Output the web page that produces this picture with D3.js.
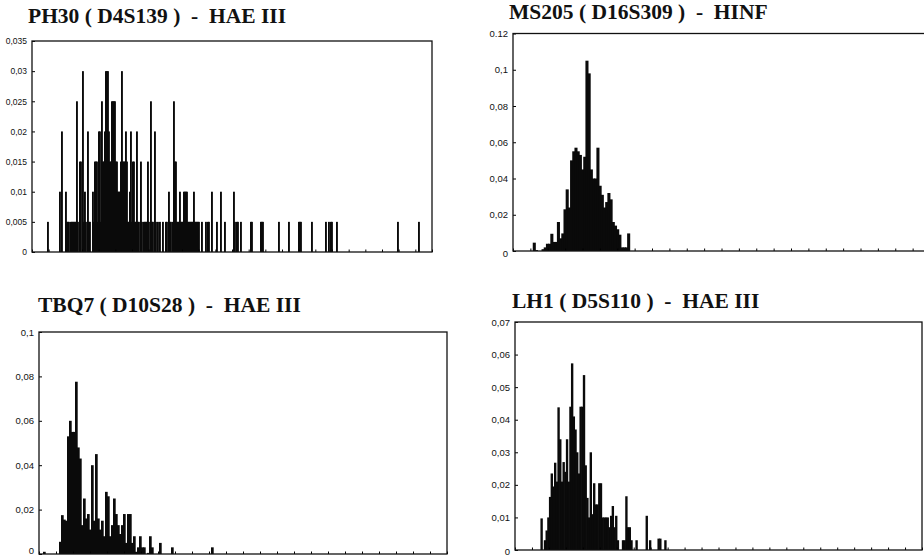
<!DOCTYPE html>
<html>
<head>
<meta charset="utf-8">
<script src="https://cdn.jsdelivr.net/npm/d3@7/dist/d3.min.js"></script>
<style>
    body { margin: 0; background: #fff; }
</style>
</head>
<body>
<script>

// PH30 : sparse bars, [bin, frequency]
const ph30Bars = [
    [15,.005],[27,.01],[29,.02],[33,.01],[34,.005],[35,.005],[36,.005],[38,.005],[39,.005],[40,.005],
    [41,.005],[42,.005],[43,.005],[44,.025],[45,.005],[47,.015],[48,.015],[50,.03],[51,.005],[52,.01],
    [53,.005],[55,.02],[56,.005],[57,.005],[60,.01],[61,.005],[62,.015],[63,.015],[64,.015],[65,.005],
    [66,.02],[67,.02],[68,.005],[69,.025],[70,.015],[71,.015],[72,.02],[73,.03],[74,.03],[75,.03],
    [76,.02],[77,.015],[78,.015],[79,.025],[80,.025],[81,.025],[82,.025],[83,.015],[84,.015],[85,.01],
    [86,.01],[87,.01],[88,.015],[89,.03],[90,.015],[91,.015],[92,.015],[93,.02],[94,.015],[95,.005],
    [96,.005],[97,.01],[98,.02],[99,.005],[100,.015],[101,.015],[102,.005],[103,.005],[104,.02],[105,.005],
    [106,.005],[108,.015],[109,.005],[111,.005],[112,.005],[113,.005],[114,.005],[115,.015],[116,.005],[118,.025],
    [119,.005],[120,.005],[122,.02],[123,.005],[125,.005],[127,.005],[130,.005],[133,.005],[134,.005],[136,.01],
    [137,.005],[138,.005],[140,.005],[141,.025],[142,.015],[143,.015],[144,.005],[145,.005],[146,.005],[147,.01],
    [148,.005],[149,.005],[150,.005],[151,.01],[152,.01],[153,.01],[154,.01],[155,.005],[156,.005],[157,.005],
    [158,.005],[159,.005],[160,.005],[161,.01],[162,.005],[163,.005],[164,.005],[165,.005],[166,.005],[169,.005],
    [173,.005],[175,.005],[176,.005],[179,.01],[184,.005],[188,.01],[192,.005],[201,.01],[202,.005],[204,.005],
    [205,.005],[208,.005],[218,.005],[219,.005],[228,.005],[229,.005],[230,.005],[246,.005],[256,.005],[266,.005],
    [267,.005],[268,.005],[279,.005],[293,.005],[296,.005],[298,.005],[299,.005],[304,.005],[365,.005],[386,.005]
]

// the other three : consecutive bins, starting at the given bin
const ms205Start = 9
const ms205Values = [
    0.0046, 0.0005, 0, 0, 0.001, 0.002, 0.004, 0.004, 0.0095, 0.005,
    0.005, 0.016, 0.007, 0.0097, 0.023, 0.034, 0.024, 0.05, 0.055, 0.057,
    0.055, 0.053, 0.045, 0.052, 0.105, 0.098, 0.045, 0.04, 0.04, 0.057,
    0.036, 0.031, 0.024, 0.027, 0.032, 0.0285, 0.016, 0.014, 0.012, 0.009,
    0.002, 0.002, 0.002, 0.0097
]

const tbq7Start = 2
const tbq7Values = [
    0.001, 0, 0, 0, 0, 0, 0, 0, 0.0055, 0.0175,
    0.0155, 0.015, 0.053, 0.06, 0.055, 0.055, 0.0776, 0.048, 0.043, 0.013,
    0.025, 0.016, 0.018, 0.011, 0.04, 0.015, 0.045, 0.016, 0.011, 0.015,
    0.008, 0.028, 0.026, 0.008, 0.013, 0.025, 0.018, 0.013, 0.009, 0.013,
    0.018, 0.005, 0.018, 0.018, 0.005, 0.008, 0.001, 0.003, 0.008, 0.003,
    0.003, 0, 0.0005, 0.008, 0.003, 0, 0, 0, 0.005, 0,
    0, 0, 0, 0, 0.003, 0, 0, 0, 0, 0,
    0, 0, 0, 0, 0, 0, 0, 0, 0, 0,
    0, 0, 0, 0, 0.003
]

const lh1Start = 15
const lh1Values = [
    0.0097, 0, 0.003, 0.006, 0.01, 0.0163, 0.0235, 0.0195, 0.0268, 0.021,
    0.0438, 0.034, 0.021, 0.027, 0.024, 0.034, 0.021, 0.044, 0.0573, 0.041,
    0.037, 0.03, 0.0235, 0.044, 0.044, 0.0537, 0.026, 0.016, 0.01, 0.03,
    0.011, 0.0205, 0.014, 0.014, 0.0205, 0.0205, 0.01, 0.01, 0.01, 0.01,
    0.007, 0.0105, 0.0135, 0.007, 0.0105, 0.003, 0, 0, 0.003, 0.003,
    0.0165, 0.007, 0.007, 0.003, 0, 0, 0.003, 0, 0, 0,
    0, 0, 0.0105, 0, 0.003, 0, 0, 0, 0, 0.0035,
    0.0035, 0, 0, 0.003
]

const titles = [
    "PH30 ( D4S139 )  -  HAE III",
    "MS205 ( D16S309 )  -  HINF",
    "TBQ7 ( D10S28 )  -  HAE III",
    "LH1 ( D5S110 )  -  HAE III"
]

const ph30Ticks = [0, 0.005, 0.01, 0.015, 0.02, 0.025, 0.03, 0.035]
const ph30TickLabels = ["0", "0,005", "0,01", "0,015", "0,02", "0,025", "0,03", "0,035"]
const ms205Ticks = [0, 0.02, 0.04, 0.06, 0.08, 0.1, 0.12]
const ms205TickLabels = ["0", "0,02", "0,04", "0,06", "0,08", "0,1", "0.12"]
const tbq7Ticks = [0, 0.02, 0.04, 0.06, 0.08, 0.1]
const tbq7TickLabels = ["0", "0,02", "0,04", "0,06", "0,08", "0,1"]
const lh1Ticks = [0, 0.01, 0.02, 0.03, 0.04, 0.05, 0.06, 0.07]
const lh1TickLabels = ["0", "0,01", "0,02", "0,03", "0,04", "0,05", "0,06", "0,07"]


window.onload = function (){

    const width = 924
    const height = 556

    const svg = d3.select('body')
        .append('svg')
        .attr('width', width)
        .attr('height', height)

    function toBars(start, values){
        return values.map((v, i) => [start + i, v])
    }

    const plainLabels = "Arial, 'Liberation Sans', sans-serif"

    const panels = [
        {title: titles[0], titleX: 28, titleY: 23, bars: ph30Bars, bins: 400, barWidth: 1.9,
         left: 32, right: 432, top: 41, bottom: 252, yMax: 0.035, zeroShift: 0,
         ticks: ph30Ticks, tickLabels: ph30TickLabels, labelFont: "'Liberation Sans Narrow', 'Liberation Sans', sans-serif", labelSize: 8.5},
        {title: titles[1], titleX: 509, titleY: 19, bars: toBars(ms205Start, ms205Values), bins: 190, barWidth: 1.4,
         left: 513, right: 930, top: 33.5, bottom: 251, yMax: 0.12, zeroShift: 2,
         ticks: ms205Ticks, tickLabels: ms205TickLabels, labelFont: plainLabels, labelSize: 9.5},
        {title: titles[2], titleX: 38, titleY: 312, bars: toBars(tbq7Start, tbq7Values), bins: 204, barWidth: 1.35,
         left: 39, right: 447, top: 332, bottom: 554, yMax: 0.1, zeroShift: -4,
         ticks: tbq7Ticks, tickLabels: tbq7TickLabels, labelFont: plainLabels, labelSize: 9.5},
        {title: titles[3], titleX: 512, titleY: 308, bars: toBars(lh1Start, lh1Values), bins: 240, barWidth: 1.4,
         left: 515, right: 922, top: 322, bottom: 550, yMax: 0.07, zeroShift: 1,
         ticks: lh1Ticks, tickLabels: lh1TickLabels, labelFont: plainLabels, labelSize: 9.5}
    ]

    function drawPanel(p){

        const x = d3.scaleLinear().domain([0, p.bins]).range([p.left, p.right])
        const y = d3.scaleLinear().domain([0, p.yMax]).range([p.bottom, p.top])

        const g = svg.append('g')

        g.append('text')
            .text(p.title)
            .attr('x', p.titleX)
            .attr('y', p.titleY)
            .style('font-family', "'Liberation Serif', 'Times New Roman', serif")
            .style('font-weight', 'bold')
            .style('font-size', '21.5px')
            .style('white-space', 'pre')
            .attr('fill', '#111')

        g.append('g')
            .selectAll('rect')
            .data(p.bars.filter(d => d[1] > 0))
            .join('rect')
            .attr('x', d => x(d[0]))
            .attr('width', x(p.barWidth) - x(0))
            .attr('y', d => y(d[1]))
            .attr('height', d => y(0) - y(d[1]))
            .attr('fill', '#0a0a0a')

        const yAxis = d3.axisLeft(y)
            .tickValues(p.ticks)
            .tickFormat((d, i) => p.tickLabels[i])
            .tickSizeInner(-3)
            .tickSizeOuter(0)
            .tickPadding(5)

        const gy = g.append('g')
            .attr('transform', getTranslateString(p.left, 0))
            .call(yAxis)
        gy.select('.domain').remove()
        gy.selectAll('text')
            .style('font-family', p.labelFont)
            .style('font-size', p.labelSize + 'px')
            .attr('fill', '#111')
        // the "0" label sits a bit off the baseline in the scan
        gy.selectAll('text')
            .filter(d => d === 0)
            .attr('y', p.zeroShift)

        const xAxis = d3.axisBottom(x)
            .tickValues(d3.range(0, p.bins + 0.01, p.bins / 24))
            .tickSize(-2.5)
            .tickFormat('')

        const gx = g.append('g')
            .attr('transform', getTranslateString(0, p.bottom))
            .call(xAxis)
        gx.select('.domain').remove()

        g.append('rect')
            .attr('x', p.left)
            .attr('y', p.top)
            .attr('width', p.right - p.left)
            .attr('height', p.bottom - p.top)
            .attr('fill', 'none')
            .attr('stroke', '#111')
            .attr('stroke-width', 1.3)
    }

    panels.forEach(drawPanel)
}

function getTranslateString(x, y){
    return 'translate(' + x + ',' + y + ')'
}

</script>
</body>
</html>
